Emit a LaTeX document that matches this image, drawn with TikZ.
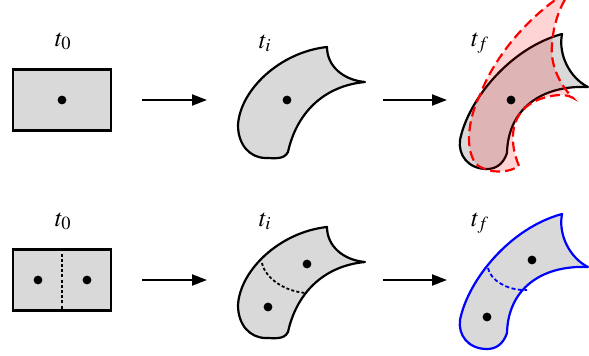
\documentclass[tikz,border=0pt]{standalone}
\usepackage{mathptmx}
\usetikzlibrary{arrows.meta}
\begin{document}
\begin{tikzpicture}[x=1pt,y=-1pt,
  body/.style={fill=black!15, draw=black, line width=2.2pt, line join=round},
  bluebody/.style={fill=black!15, draw=blue, line width=2.2pt, line join=round},
  rectbox/.style={rectangle, fill=black!15, draw=black, line width=2.2pt, minimum width=98pt, minimum height=61pt, inner sep=0pt},
  dotmark/.style={fill=black, draw=none},
  cut/.style={black, line width=1.8pt, dash pattern=on 3pt off 2.2pt},
  bluecut/.style={blue, line width=1.8pt, dash pattern=on 4pt off 2.5pt},
  reddash/.style={red, line width=2.2pt, dash pattern=on 10pt off 5pt},
  redfill/.style={fill=red, fill opacity=0.17, draw=none},
  flow/.style={line width=2.2pt, -{Triangle[length=15pt,width=11pt]}},
  lab/.style={font=\fontsize{25}{30}\selectfont, inner sep=0pt, anchor=base}
]
\useasboundingbox (0,0) rectangle (589,356);
\clip (0,0) rectangle (589,356);

% ---------- labels ----------
\node[lab] (l1) at (63,46) {$t_0$};
\node[lab] (l2) at (265,48) {$t_i$};
\node[lab] (l3) at (480,46) {$t_f$};
\node[lab] (l4) at (63,226) {$t_0$};
\node[lab] (l5) at (265,226) {$t_i$};
\node[lab] (l6) at (480,226) {$t_f$};

% ---------- top row ----------
\node[rectbox] (r1) at (62,100) {};
\fill[dotmark] (r1.center) circle (4.4pt);

\coordinate (a1s) at (142,100); \coordinate (a1e) at (207,100);
\coordinate (a2s) at (383,100); \coordinate (a2e) at (447,100);
\draw[flow] (a1s) -- (a1e);
\draw[flow] (a2s) -- (a2e);

% t_i shape
\draw[body] (327,47) .. controls (327,66) and (343,80) .. (365,82)
  .. controls (322,86) and (296,115) .. (288,152)
  .. controls (284,160) and (274,158) .. (266,158)
  .. controls (250,158) and (238,145) .. (238,125)
  .. controls (240,90) and (280,52) .. cycle;
\fill[dotmark] (287,100) circle (4.4pt);

% t_f shape (black)
\draw[body] (562,34) .. controls (558,55) and (570,78) .. (588,87)
  .. controls (540,85) and (508,110) .. (507,153)
  .. controls (503,165) and (495,169) .. (487,169)
  .. controls (468,169) and (458,155) .. (460,140)
  .. controls (468,100) and (510,48) .. cycle;
% red deformed shape
\path[redfill] (567,-8) .. controls (530,15) and (495,55) .. (480,95)
  .. controls (472,110) and (462,145) .. (476,164)
  .. controls (485,172) and (505,175) .. (519,166)
  .. controls (508,140) and (510,110) .. (540,99)
  .. controls (552,95) and (565,93) .. (573,98)
  .. controls (560,85) and (550,65) .. (552,45)
  .. controls (553,25) and (560,5) .. (570,-8) -- cycle;
\draw[reddash] (567,-8) .. controls (530,15) and (495,55) .. (480,95)
  .. controls (472,110) and (462,145) .. (476,164)
  .. controls (485,172) and (505,175) .. (519,166)
  .. controls (508,140) and (510,110) .. (540,99)
  .. controls (552,95) and (565,93) .. (573,98)
  .. controls (560,85) and (550,65) .. (552,45)
  .. controls (553,25) and (560,5) .. (570,-8);
\fill[dotmark] (511,100) circle (4.4pt);

% ---------- bottom row ----------
\node[rectbox] (r2) at (62,280) {};
\draw[cut] (r2.north) -- (r2.south);
\fill[dotmark] (38,280) circle (4.4pt);
\fill[dotmark] (87,280) circle (4.4pt);

\coordinate (b1s) at (142,280); \coordinate (b1e) at (207,280);
\coordinate (b2s) at (383,280); \coordinate (b2e) at (447,280);
\draw[flow] (b1s) -- (b1e);
\draw[flow] (b2s) -- (b2e);

% t_i shape split
\begin{scope}[yshift=-180pt]
\draw[body] (327,47) .. controls (327,66) and (343,80) .. (365,82)
  .. controls (322,86) and (296,115) .. (288,152)
  .. controls (284,160) and (274,158) .. (266,158)
  .. controls (250,158) and (238,145) .. (238,125)
  .. controls (240,90) and (280,52) .. cycle;
\draw[cut] (262,83) .. controls (265,98) and (285,112) .. (307,113);
\fill[dotmark] (307,84) circle (4.4pt);
\fill[dotmark] (268,127) circle (4.4pt);

% t_f shape (blue)
\draw[bluebody] (562,34) .. controls (558,55) and (570,78) .. (588,87)
  .. controls (540,85) and (508,110) .. (507,153)
  .. controls (503,165) and (495,169) .. (487,169)
  .. controls (468,169) and (458,155) .. (460,140)
  .. controls (468,100) and (510,48) .. cycle;
\draw[bluecut] (488,88) .. controls (490,100) and (508,111) .. (527,110);
\fill[dotmark] (532,80) circle (4.4pt);
\fill[dotmark] (487,137) circle (4.4pt);
\end{scope}
\end{tikzpicture}
\end{document}
